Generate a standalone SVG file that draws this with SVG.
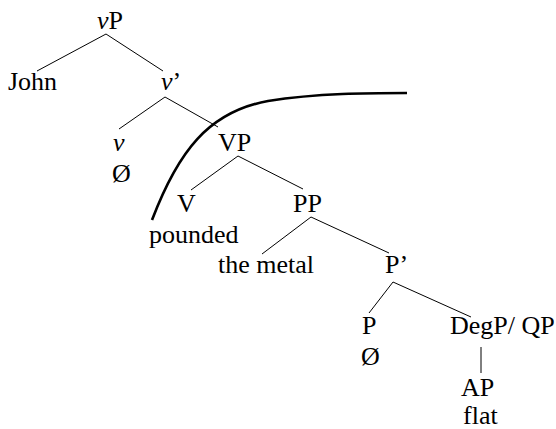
<svg xmlns="http://www.w3.org/2000/svg" width="556" height="429" viewBox="0 0 556 429" font-family="'Liberation Serif', 'Times New Roman', Times, 'DejaVu Serif', serif">
<style>
text{font-family:"Liberation Serif","Times New Roman",Times,"DejaVu Serif",serif;font-size:26px;fill:#000}
.e{stroke:#000;stroke-width:1;fill:none}
.it{font-style:italic}
</style>
<rect width="556" height="429" fill="#fff"/>
<g id="connectors">
<line class="e" x1="106" y1="34" x2="37" y2="71"/>
<line class="e" x1="106" y1="34" x2="163" y2="71"/>
<line class="e" x1="165" y1="97" x2="119" y2="129"/>
<line class="e" x1="165" y1="97" x2="218" y2="127"/>
<line class="e" x1="238" y1="156" x2="191" y2="190"/>
<line class="e" x1="238" y1="156" x2="303" y2="189"/>
<line class="e" x1="311" y1="217" x2="262" y2="254"/>
<line class="e" x1="311" y1="217" x2="389" y2="253"/>
<line class="e" x1="393" y1="282" x2="369" y2="313"/>
<line class="e" x1="393" y1="282" x2="471" y2="317"/>
<line class="e" x1="481" y1="347" x2="481" y2="373"/>
</g>
<path id="boundary" d="M152,220 C178,152 208,112 268,101 C318,93 370,93 407,93" fill="none" stroke="#000" stroke-width="2.6"/>
<g id="vP"><text x="97" y="29"><tspan class="it">v</tspan>P</text></g>
<g id="John"><text x="8" y="90">John</text></g>
<g id="vbar"><text x="161" y="90"><tspan class="it">v</tspan>’</text></g>
<g id="v"><text x="113" y="151" class="it">v</text><text x="112" y="182">Ø</text></g>
<g id="VP"><text x="218" y="151">VP</text></g>
<g id="V"><text x="177" y="212">V</text><text x="149" y="243">pounded</text></g>
<g id="PP"><text x="293" y="212">PP</text></g>
<g id="DP"><text x="218" y="273">the metal</text></g>
<g id="Pbar"><text x="385" y="273">P’</text></g>
<g id="P"><text x="362" y="334">P</text><text x="361" y="365">Ø</text></g>
<g id="DegP"><text x="450" y="334">DegP/ QP</text></g>
<g id="AP"><text x="461" y="396">AP</text><text x="463" y="424">flat</text></g>
</svg>
